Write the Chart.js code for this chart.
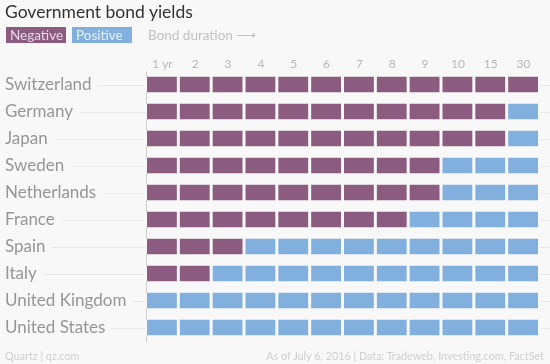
<!DOCTYPE html>
<html>
<head>
<meta charset="utf-8">
<script src="https://cdn.jsdelivr.net/npm/chart.js@4/dist/chart.umd.min.js"></script>
<style>
  html, body { margin: 0; padding: 0; background: #f8f8f8; }
  #wrap { position: relative; width: 550px; height: 364px; overflow: hidden; background: #f8f8f8; font-family: Lato, "Open Sans", sans-serif; }
  #c { position: absolute; left: 0; top: 0; }
  .title { position: absolute; left: 5px; top: 1px; font-size: 17.5px; color: #333; white-space: nowrap; }
  .leg { position: absolute; top: 27px; height: 16px; line-height: 16px; font-size: 13.5px; white-space: nowrap; box-sizing: border-box; padding: 0 4px; }
  .neg { left: 6px; width: 60px; background: #8c5c80; color: #e7d6e3; }
  .pos { left: 72px; width: 60px; background: #82b0de; color: #e6f0fa; }
  .dur { position: absolute; left: 148px; top: 27px; line-height: 16px; font-size: 13.5px; color: #c2c2c2; white-space: nowrap; }
  .foot { position: absolute; top: 349px; font-size: 10.8px; color: #cfcfcf; white-space: nowrap; }
  .fl { left: 5px; }
  .fr { right: 6px; }
</style>
</head>
<body>
<div id="wrap">
  <canvas id="c" width="550" height="364"></canvas>
  <div class="title">Government bond yields</div>
  <div class="leg neg">Negative</div>
  <div class="leg pos">Positive</div>
  <div class="dur">Bond duration ⟶</div>
  <div class="foot fl">Quartz | qz.com</div>
  <div class="foot fr">As of July 6, 2016 | Data: Tradeweb, Investing.com, FactSet</div>
</div>
<script>
// Countries (rows)
const countries = ["Switzerland", "Germany", "Japan", "Sweden", "Netherlands", "France", "Spain", "Italy", "United Kingdom", "United States"];
// Bond durations (columns)
const durations = ["1 yr", "2", "3", "4", "5", "6", "7", "8", "9", "10", "15", "30"];
// Number of durations (from the shortest) with negative yields, per country
const negativeCounts = [12, 11, 11, 9, 9, 8, 3, 2, 0, 0];

const NEG = "#8c5c80";
const POS = "#82b0de";
const BG = "#f8f8f8";
const LABEL_FONT = 17;

const datasets = durations.map((d, j) => ({
  label: d,
  data: countries.map(() => 1),
  backgroundColor: countries.map((c, i) => j < negativeCounts[i] ? NEG : POS),
  borderColor: BG,
  borderWidth: { left: 1, right: 2, top: 0, bottom: 0 },
  borderSkipped: false,
  barPercentage: 0.6,
  categoryPercentage: 1.0
}));

const rowLines = {
  id: "rowLines",
  beforeDatasetsDraw(chart) {
    const ctx = chart.ctx;
    const y = chart.scales.y;
    ctx.save();
    ctx.font = LABEL_FONT + "px Lato";
    ctx.strokeStyle = "#ebebeb";
    ctx.lineWidth = 1;
    countries.forEach((c, i) => {
      const py = Math.round(y.getPixelForValue(i)) + 0.5;
      const w = ctx.measureText(c).width;
      ctx.beginPath();
      ctx.moveTo(5 + w + 6, py);
      ctx.lineTo(chart.width, py);
      ctx.stroke();
    });
    ctx.restore();
  }
};

new Chart(document.getElementById("c"), {
  type: "bar",
  data: { labels: countries, datasets },
  plugins: [rowLines],
  options: {
    indexAxis: "y",
    responsive: false,
    animation: false,
    layout: { padding: { left: 5, right: 10, top: 55, bottom: 23 } },
    plugins: { legend: { display: false }, tooltip: { enabled: false } },
    scales: {
      x: {
        type: "linear",
        position: "top",
        stacked: true,
        min: 0,
        max: 12,
        grid: { display: false, drawTicks: false },
        border: { display: false },
        afterBuildTicks(scale) {
          scale.ticks = durations.map((d, i) => ({ value: i + 0.5 }));
        },
        afterFit(scale) { scale.height = 16; },
        ticks: {
          autoSkip: false,
          maxRotation: 0,
          padding: 0,
          color: "#b8b8b8",
          font: { family: "Lato", size: 12 },
          callback: (v, i) => durations[i]
        }
      },
      y: {
        stacked: true,
        grid: { display: false, drawTicks: false },
        border: { display: true, color: "#cfcfcf", width: 1 },
        afterFit(scale) { scale.width = 141; },
        ticks: {
          crossAlign: "far",
          color: "#969696",
          font: { family: "Lato", size: LABEL_FONT },
          padding: 0
        }
      }
    }
  }
});
</script>
</body>
</html>
